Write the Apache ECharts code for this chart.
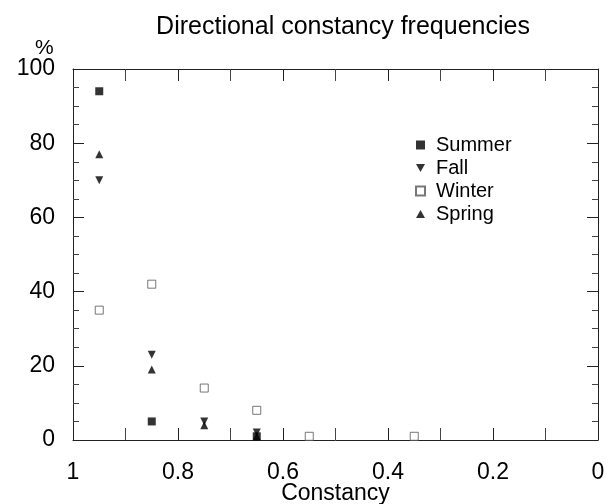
<!DOCTYPE html>
<html>
<head>
<meta charset="utf-8">
<script src="https://cdn.jsdelivr.net/npm/echarts@6/dist/echarts.min.js"></script>
<style>html,body{margin:0;padding:0;background:#fff}#c{width:616px;height:504px}</style>
</head>
<body>
<div id="c"></div>
<script>
const titleText = 'Directional constancy frequencies';
const xName = 'Constancy';
const yName = '%';
const seriesNames = ['Summer', 'Fall', 'Winter', 'Spring'];
const summerX = [0.95, 0.85, 0.65];
const summerY = [94, 5, 1];
const fallX = [0.95, 0.85, 0.75, 0.65];
const fallY = [70, 23, 5, 2];
const winterX = [0.95, 0.85, 0.75, 0.65, 0.55, 0.35];
const winterY = [35, 42, 14, 8, 1, 1];
const springX = [0.95, 0.85, 0.75, 0.65];
const springY = [77, 19, 4, 1];
const xTicks = [0, 0.2, 0.4, 0.6, 0.8, 1];
const yTicks = [0, 20, 40, 60, 80, 100];

const FONT = '"Liberation Sans", Arial, Helvetica, sans-serif';
const pair = (xs, ys) => xs.map((x, i) => [x, ys[i]]);
const DOWN_TRI = 'path://M0,0 L10,0 L5,9 Z';
const UP_TRI = 'path://M5,0 L10,9 L0,9 Z';

const chart = echarts.init(document.getElementById('c'), null, {renderer: 'canvas'});

function xAxisCfg(pos, showLabel) {
  return {
    type: 'value', position: pos, inverse: true,
    min: xTicks[0], max: xTicks[xTicks.length - 1], interval: 0.2,
    axisLine: {show: true, onZero: false, lineStyle: {color: '#222', width: 1}},
    axisTick: {show: true, inside: true, length: 12, lineStyle: {color: '#222'}},
    minorTick: {show: true, splitNumber: 2, length: 12, lineStyle: {color: '#444'}},
    splitLine: {show: false},
    axisLabel: {show: showLabel, fontFamily: FONT, fontSize: 23, color: '#000', margin: 21,
      formatter: v => String(+v.toFixed(1))},
    name: showLabel ? xName : '', nameLocation: 'middle', nameGap: 42, nameMoveOverlap: false,
    nameTextStyle: {fontFamily: FONT, fontSize: 23, color: '#000'}
  };
}
function yAxisCfg(pos, showLabel) {
  return {
    type: 'value', position: pos,
    min: yTicks[0], max: yTicks[yTicks.length - 1], interval: 20,
    axisLine: {show: true, onZero: false, lineStyle: {color: '#222', width: 1}},
    axisTick: {show: true, inside: true, length: 11, lineStyle: {color: '#222'}},
    minorTick: {show: true, splitNumber: 4, length: 6, lineStyle: {color: '#444'}},
    splitLine: {show: false},
    axisLabel: {show: showLabel, fontFamily: FONT, fontSize: 23, color: '#000', margin: 18}
  };
}

chart.setOption({
  animation: false,
  backgroundColor: '#fff',
  title: [
    {text: titleText, left: 338, top: 10, textAlign: 'center',
     textStyle: {fontFamily: FONT, fontSize: 25, fontWeight: 'normal', color: '#000'}},
    {text: yName, left: 30, top: 33,
     textStyle: {fontFamily: FONT, fontSize: 21, fontWeight: 'normal', color: '#000'}}
  ],
  grid: {left: 73, right: 18, top: 69, bottom: 64, containLabel: false, outerBoundsMode: 'none'},
  xAxis: [xAxisCfg('bottom', true), xAxisCfg('top', false)],
  yAxis: [yAxisCfg('left', true), yAxisCfg('right', false)],
  legend: {
    orient: 'vertical', left: 410, top: 130,
    itemWidth: 9, itemHeight: 9, itemGap: 3,
    textStyle: {fontFamily: FONT, fontSize: 20, color: '#000', padding: [0, 0, 0, 6]},
    data: seriesNames
  },
  series: [
    {name: seriesNames[0], type: 'scatter', symbol: 'rect', symbolSize: 8,
     itemStyle: {color: '#000'}, data: pair(summerX, summerY)},
    {name: seriesNames[1], type: 'scatter', symbol: DOWN_TRI, symbolSize: [8, 8],
     itemStyle: {color: '#000'}, data: pair(fallX, fallY)},
    {name: seriesNames[2], type: 'scatter', symbol: 'rect', symbolSize: 8,
     itemStyle: {color: '#fff', borderColor: '#555', borderWidth: 1}, data: pair(winterX, winterY)},
    {name: seriesNames[3], type: 'scatter', symbol: UP_TRI, symbolSize: [8, 8],
     itemStyle: {color: '#000'}, data: pair(springX, springY)}
  ]
});
</script>
</body>
</html>
